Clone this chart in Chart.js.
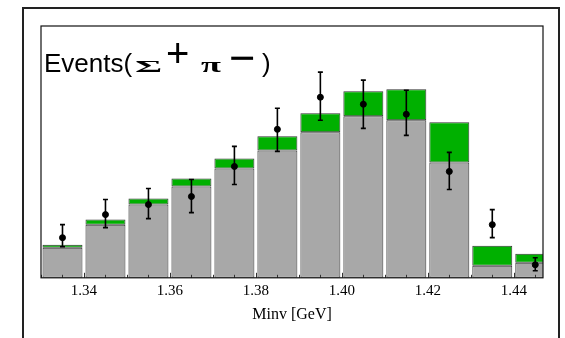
<!DOCTYPE html>
<html>
<head>
<meta charset="utf-8">
<script src="https://cdn.jsdelivr.net/npm/chart.js@4"></script>
<style>
    body { margin: 0; background: #fff; }
    #wrap { position: relative; width: 565px; height: 338px; overflow: hidden; }
    #frame { position: absolute; left: 22px; top: 7px; width: 538px; height: 400px; box-sizing: border-box; border: 2px solid #222; }
    #minv { position: absolute; left: 0; top: 0; }
    .lbl { position: absolute; line-height: 1; white-space: pre; color: #000; }
    .sans { font-family: "Liberation Sans", Arial, sans-serif; }
    .sym { font-family: "Liberation Serif", "Times New Roman", serif; font-weight: bold; transform-origin: left center; }
</style>
</head>
<body>
<div id="wrap">
    <div id="frame"></div>
    <canvas id="minv" width="565" height="338"></canvas>
    <!-- y axis title, built from pieces like the original -->
    <span class="lbl sans" style="left:44px; top:50px; font-size:26px;">Events(</span>
    <span class="lbl sym" style="left:135px; top:57.8px; font-size:17px; transform:scaleX(2.45);">Σ</span>
    <span class="lbl sans" style="left:166px; top:33px; font-size:40px;">+</span>
    <span class="lbl sym" style="left:201px; top:53.6px; font-size:22px; transform:scaleX(1.65);">π</span>
    <span class="lbl sans" style="left:229px; top:35px; font-size:45px;">−</span>
    <span class="lbl sans" style="left:262px; top:50px; font-size:26px;">)</span>
</div>
<script>
// bin centres (GeV)
const massBins = [1.335, 1.345, 1.355, 1.365, 1.375, 1.385, 1.395, 1.405, 1.415, 1.425, 1.435, 1.445];
// grey part of each bar and total height (grey + green)
const grayPart = [30, 53, 73, 91, 109, 127, 145, 161, 157, 115, 12, 15];
const totalHeight = [33, 58, 79, 99, 119, 141, 164, 186, 188, 155, 32, 24];
// measured points with error bars
const dataPoints = [40, 63, 73, 81, 111, 148, 180, 173, 163, 106, 53, 13];
const errLow = [31, 50, 59, 65, 93, 126, 157, 149, 142, 88, 40, 7];
const errHigh = [53, 78, 89, 98, 131, 169, 205, 197, 187, 125, 68, 20];
// x axis tick labels
const xTickValues = [1.34, 1.36, 1.38, 1.40, 1.42, 1.44];

const serif = "'Liberation Serif', 'Times New Roman', serif";

// frame, inward ticks and error bars
const framePlugin = {
    id: "frame",
    afterDatasetsDraw(chart) {
        const ctx = chart.ctx;
        const x = chart.scales.x, y = chart.scales.y;
        ctx.save();
        ctx.strokeStyle = "#000";
        ctx.lineWidth = 1.6;
        massBins.forEach(function (m, i) {
            const px = x.getPixelForValue(m);
            const top = y.getPixelForValue(errHigh[i]);
            const bot = y.getPixelForValue(errLow[i]);
            ctx.beginPath();
            ctx.moveTo(px, top);
            ctx.lineTo(px, bot);
            ctx.moveTo(px - 2.5, top);
            ctx.lineTo(px + 2.5, top);
            ctx.moveTo(px - 2.5, bot);
            ctx.lineTo(px + 2.5, bot);
            ctx.stroke();
        });
        ctx.restore();
    },
    afterDraw(chart) {
        const ctx = chart.ctx;
        const a = chart.chartArea;
        const x = chart.scales.x;
        ctx.save();
        // ticks
        ctx.strokeStyle = "#333";
        ctx.lineWidth = 1;
        for (let k = 0; k < 30; k++) {
            const v = 1.33 + k * 0.005;
            if (v > x.max) break;
            const major = xTickValues.some(t => Math.abs(t - v) < 1e-6);
            const px = Math.round(x.getPixelForValue(v)) + 0.5;
            ctx.beginPath();
            ctx.moveTo(px, a.bottom);
            ctx.lineTo(px, a.bottom - (major ? 5 : 3));
            ctx.stroke();
        }
        // plot frame
        ctx.strokeStyle = "#111";
        ctx.lineWidth = 1.2;
        ctx.strokeRect(a.left, a.top, a.right - a.left, a.bottom - a.top);
        ctx.restore();
    }
};

const ctx = document.getElementById("minv").getContext("2d");

new Chart(ctx, {
    data: {
        datasets: [
            {
                type: "scatter",
                data: massBins.map((m, i) => ({ x: m, y: dataPoints[i] })),
                backgroundColor: "#000",
                borderColor: "#000",
                pointRadius: 3,
                order: 0,
            },
            {
                type: "bar",
                data: massBins.map((m, i) => ({ x: m, y: [grayPart[i], totalHeight[i]] })),
                backgroundColor: "#00b000",
                borderColor: "#333",
                borderWidth: 1,
                borderSkipped: false,
                grouped: false,
                barPercentage: 0.93,
                categoryPercentage: 1,
                order: 1,
            },
            {
                type: "bar",
                data: massBins.map((m, i) => ({ x: m, y: grayPart[i] })),
                backgroundColor: "#a8a8a8",
                borderColor: "#333",
                borderWidth: 1,
                borderSkipped: false,
                grouped: false,
                barPercentage: 0.93,
                categoryPercentage: 1,
                order: 1,
            },
        ],
    },
    options: {
        responsive: false,
        animation: false,
        layout: {
            padding: { left: 41, top: 26, right: 22, bottom: 11 },
        },
        plugins: {
            legend: { display: false },
            tooltip: { enabled: false },
        },
        scales: {
            x: {
                type: "linear",
                offset: false,
                min: 1.33,
                max: 1.4468,
                afterBuildTicks: function (scale) {
                    scale.ticks = xTickValues.map(v => ({ value: v }));
                },
                grid: { display: false, drawTicks: false, offset: false },
                border: { display: false },
                ticks: {
                    padding: 4,
                    color: "#000",
                    font: { family: serif, size: 15 },
                    autoSkip: false,
                    maxRotation: 0,
                    callback: v => v.toFixed(2),
                },
                title: {
                    display: true,
                    text: "Minv [GeV]",
                    color: "#000",
                    font: { family: serif, size: 16 },
                    padding: { top: 1, bottom: 3 },
                },
            },
            y: {
                display: false,
                min: 0,
                max: 251,
            },
        },
    },
    plugins: [framePlugin],
});
</script>
</body>
</html>
